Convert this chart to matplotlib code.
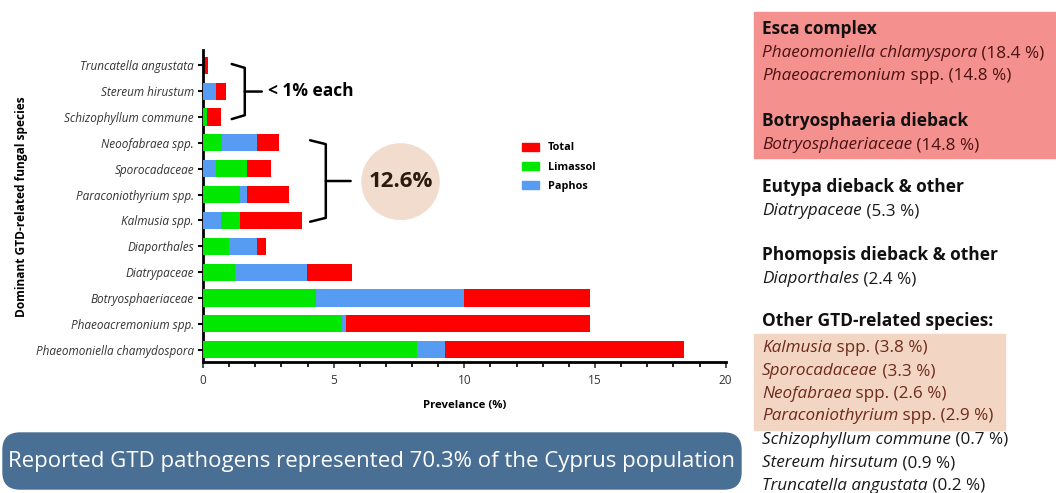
import matplotlib
matplotlib.use("Agg")
from matplotlib import pyplot as plt
from matplotlib.lines import Line2D
from matplotlib.patches import Ellipse, FancyBboxPatch, Patch, Rectangle

plt.rcParams["font.family"] = ["Open Sans", "DejaVu Sans"]

# bottom to top, as on the y axis
species = ["Phaeomoniella chamydospora", "Phaeoacremonium spp.", "Botryosphaeriaceae",
           "Diatrypaceae", "Diaporthales", "Kalmusia spp.", "Paraconiothyrium spp.",
           "Sporocadaceae", "Neoofabraea spp.", "Schizophyllum commune",
           "Stereum hirustum", "Truncatella angustata"]
limassol = [8.18, 5.32, 4.31, 1.21, 0.98, 0.72, 1.43, 1.21, 0.71, 0.16, 0.0, 0.0]
paphos = [1.09, 0.16, 5.68, 2.77, 1.09, 0.68, 0.25, 0.48, 1.36, 0.0, 0.48, 0.0]
total = [18.4, 14.8, 14.8, 5.7, 2.4, 3.8, 3.3, 2.6, 2.9, 0.7, 0.9, 0.2]
paphos_first = [False, False, False, False, False, True, False, True, False, False, True, False]

RED, GREEN, BLUE = "#ff0000", "#00e800", "#559cf2"

fig = plt.figure(figsize=(10.56, 4.93), dpi=100)
ax = fig.add_axes([0.1922, 0.266, 0.495, 0.633])

y = range(len(species))
h = 0.66
ax.barh(y, total, height=h, color=RED, zorder=2)
l_left = [p if f else 0 for p, f in zip(paphos, paphos_first)]
p_left = [0 if f else l for l, f in zip(limassol, paphos_first)]
ax.barh(y, limassol, left=l_left, height=h, color=GREEN, zorder=3)
ax.barh(y, paphos, left=p_left, height=h, color=BLUE, zorder=3)

ax.set_xlim(0, 20)
ax.set_ylim(-0.47, 11.6)
ax.set_xticks([0, 5, 10, 15, 20])
ax.set_xticks(range(21), minor=True)
ax.set_yticks(list(y))
ax.set_yticklabels(species, fontstyle="italic", fontsize=8.5, color="#333333")
ax.tick_params(axis="x", labelsize=8.5, colors="#333333", length=4, width=1.2, pad=5)
ax.tick_params(axis="x", which="minor", length=3.5, width=1.2)
ax.tick_params(axis="y", length=3.5, width=1.5, pad=3)
for s in ("top", "right"):
    ax.spines[s].set_visible(False)
for s in ("left", "bottom"):
    ax.spines[s].set_linewidth(2)
ax.set_xlabel("Prevelance (%)", fontsize=8.2, fontweight="bold", labelpad=9)
fig.text(0.020, 0.58, "Dominant GTD-related fungal species", rotation=90,
         fontsize=8.6, fontweight="bold", ha="center", va="center")

# legend
handles = [Patch(color=c) for c in (RED, GREEN, BLUE)]
ax.legend(handles, ["Total", "Limassol", "Paphos"], loc="upper left",
          bbox_to_anchor=(0.489, 0.722), bbox_transform=fig.transFigure,
          frameon=False, handlelength=1.6, handleheight=0.8, handletextpad=0.8,
          labelspacing=0.75, borderpad=0, prop={"weight": "bold", "size": 7.8})


def bracket(x0, x1, x2, ytop, ybot):
    ym = (ytop + ybot) / 2
    kw = dict(color="black", lw=1.8, solid_joinstyle="round", solid_capstyle="round",
              clip_on=False, zorder=4)
    ax.add_line(Line2D([x0, x1, x1, x2], [ytop, ytop - 0.15, ym, ym], **kw))
    ax.add_line(Line2D([x1, x1, x0], [ym, ybot + 0.15, ybot], **kw))


bracket(1.1, 1.6, 2.25, 11.05, 8.92)
ax.text(2.5, 10, "< 1% each", fontsize=12.5, fontweight="bold", va="center")
bracket(4.1, 4.7, 5.65, 8.1, 4.95)
ax.add_patch(Ellipse((7.56, 6.5), 2.95, 2.92, color="#f2dccd", zorder=1, clip_on=False))
ax.text(7.56, 6.5, "12.6%", fontsize=16, fontweight="bold", ha="center", va="center",
        color="#2a1a10")

# right panel
fig.add_artist(Rectangle((754 / 1056, 1 - 158 / 493), 302 / 1056, 146 / 493,
                         transform=fig.transFigure, color="#f4908e", zorder=0))
fig.add_artist(Rectangle((754 / 1056, 1 - 430 / 493), 251 / 1056, 96 / 493,
                         transform=fig.transFigure, color="#f2d6c3", zorder=0))

x0 = 762 / 1056
hdr = dict(fontsize=12.5, fontweight="bold", va="baseline", color="#111111")
renderer = fig.canvas.get_renderer()


def rich(ypx, parts, color="#1a1a1a"):
    x = x0
    for s, style in parts:
        t = fig.text(x, 1 - ypx / 493, s, fontsize=12.3, fontstyle=style,
                     color=color, va="baseline")
        x += t.get_window_extent(renderer).width / fig.bbox.width


def header(ypx, s):
    fig.text(x0, 1 - ypx / 493, s, **hdr)


maroon = "#4a1212"
brown = "#6e2a1c"
header(34, "Esca complex")
rich(57, [("Phaeomoniella chlamyspora", "italic"), (" (18.4 %)", "normal")], maroon)
rich(80, [("Phaeoacremonium", "italic"), (" spp. (14.8 %)", "normal")], maroon)
header(126, "Botryosphaeria dieback")
rich(149, [("Botryosphaeriaceae", "italic"), (" (14.8 %)", "normal")], maroon)
header(192, "Eutypa dieback & other")
rich(215, [("Diatrypaceae", "italic"), (" (5.3 %)", "normal")])
header(260, "Phomopsis dieback & other")
rich(283, [("Diaporthales", "italic"), (" (2.4 %)", "normal")])
header(326, "Other GTD-related species:")
rich(352, [("Kalmusia", "italic"), (" spp. (3.8 %)", "normal")], brown)
rich(375, [("Sporocadaceae", "italic"), (" (3.3 %)", "normal")], brown)
rich(398, [("Neofabraea", "italic"), (" spp. (2.6 %)", "normal")], brown)
rich(420, [("Paraconiothyrium", "italic"), (" spp. (2.9 %)", "normal")], brown)
rich(444, [("Schizophyllum commune", "italic"), (" (0.7 %)", "normal")])
rich(467, [("Stereum hirsutum", "italic"), (" (0.9 %)", "normal")])
rich(490, [("Truncatella angustata", "italic"), (" (0.2 %)", "normal")])

# bottom banner
fig.add_artist(FancyBboxPatch((3 / 1056, 1 - 489 / 493), 738 / 1056, 56 / 493,
                              boxstyle="round,pad=0,rounding_size=0.016",
                              transform=fig.transFigure, color="#4a6f95",
                              mutation_aspect=1056 / 493, zorder=0))
fig.text(372 / 1056, 1 - 462 / 493,
         "Reported GTD pathogens represented 70.3% of the Cyprus population",
         fontsize=16, color="white", ha="center", va="center")

fig.savefig("out.png", dpi=100)
